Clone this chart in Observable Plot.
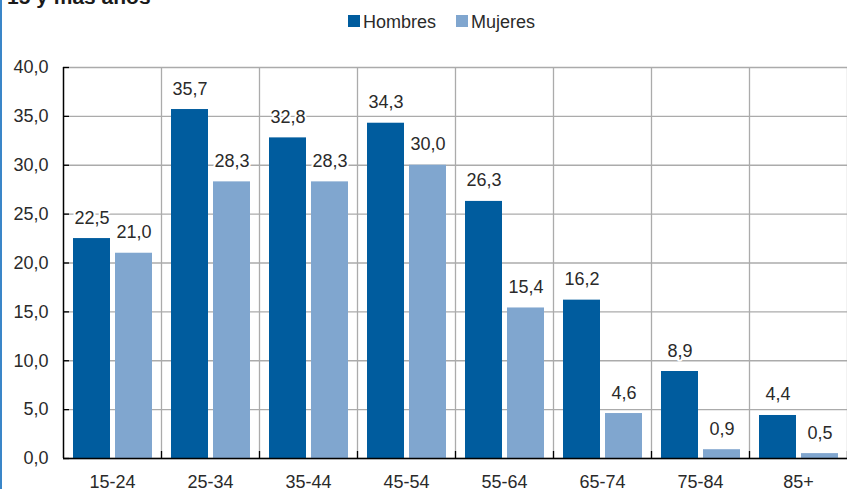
<!DOCTYPE html>
<html>
<head>
<meta charset="utf-8">
<script src="https://cdn.jsdelivr.net/npm/d3@7"></script>
<script src="https://cdn.jsdelivr.net/npm/@observablehq/plot@0.6"></script>
<style>
  html, body { margin: 0; padding: 0; background: #fff; }
  #wrap { position: relative; width: 847px; height: 489px; overflow: hidden; font-family: "Liberation Sans", Arial, Helvetica, sans-serif; }
  #border { position: absolute; left: 0; top: 0; width: 2px; height: 489px; background: #3a86c8; }
  #overlay { position: absolute; left: 0; top: 0; pointer-events: none; }
</style>
</head>
<body>
<div id="wrap"><div id="border"></div></div>
<script>
const titleText = "15 y más años";
const categories = ["15-24", "25-34", "35-44", "45-54", "55-64", "65-74", "75-84", "85+"];
const hombres = [22.5, 35.7, 32.8, 34.3, 26.3, 16.2, 8.9, 4.4];
const mujeres = [21.0, 28.3, 28.3, 30.0, 15.4, 4.6, 0.9, 0.5];
const seriesNames = ["Hombres", "Mujeres"];
const seriesColors = ["#005c9e", "#80a6cf"];
const yTicks = [0, 5, 10, 15, 20, 25, 30, 35, 40];

const fmt = d => d.toFixed(1).replace(".", ",");
const dataH = categories.map((c, i) => ({cat: c, sexo: seriesNames[0], v: hombres[i]}));
const dataM = categories.map((c, i) => ({cat: c, sexo: seriesNames[1], v: mujeres[i]}));

const W = 847, H = 489;
const mL = 63, mR = 0, mT = 67, mB = 31;
const step = (W - mL - mR) / categories.length;
const frameH = H - mT - mB;
const textColor = "#2a2a2a";
const gridColor = "#ababab";
const fs = 18;

const chart = Plot.plot({
  width: W,
  height: H,
  marginLeft: mL,
  marginRight: mR,
  marginTop: mT,
  marginBottom: mB,
  style: {fontFamily: "'Liberation Sans', Arial, Helvetica, sans-serif", fontSize: fs + "px", color: textColor, background: "transparent", overflow: "visible"},
  x: {domain: categories, padding: 0},
  y: {domain: [0, 40]},
  color: {domain: seriesNames, range: seriesColors},
  marks: [
    Plot.ruleY(yTicks, {stroke: gridColor, strokeWidth: 1.3}),
    Plot.ruleX(categories, {x: d => d, dx: step / 2, stroke: gridColor, strokeWidth: 1.3}),
    Plot.barY(dataH, {x: "cat", y: "v", fill: "sexo", insetLeft: 10, insetRight: step - 47}),
    Plot.barY(dataM, {x: "cat", y: "v", fill: "sexo", insetLeft: 52, insetRight: step - 89}),
    Plot.text(dataH, {x: "cat", y: "v", text: d => fmt(d.v), dx: 28.5 - step / 2, dy: -15, lineAnchor: "bottom", fill: textColor, stroke: "white", strokeWidth: 4, fontSize: fs}),
    Plot.text(dataM, {x: "cat", y: "v", text: d => fmt(d.v), dx: 70.5 - step / 2, dy: -15, lineAnchor: "bottom", fill: textColor, stroke: "white", strokeWidth: 4, fontSize: fs}),
    Plot.ruleY(yTicks, {stroke: "black", strokeWidth: 1.3, insetRight: (W - mL - mR) - 6}),
    Plot.ruleX(categories, {x: d => d, dx: step / 2, stroke: "black", strokeWidth: 1.3, insetTop: frameH - 7}),
    Plot.ruleX([categories[0]], {x: d => d, dx: -step / 2, stroke: "black", strokeWidth: 1.5}),
    Plot.ruleY([0], {stroke: "black", strokeWidth: 1.5}),
    Plot.axisY({ticks: yTicks, tickFormat: fmt, tickSize: 0, tickPadding: 15, fontSize: fs, label: null}),
    Plot.axisX({tickSize: 0, tickPadding: 17, fontSize: fs, label: null})
  ]
});

const wrap = document.getElementById("wrap");
wrap.appendChild(chart);

// overlay: title (cut off at top) and legend
const ov = d3.select(wrap).append("svg")
  .attr("id", "overlay")
  .attr("width", W).attr("height", 40)
  .style("font-family", "'Liberation Sans', Arial, Helvetica, sans-serif");

ov.append("text")
  .attr("x", 7).attr("y", 4)
  .attr("font-size", 21).attr("font-weight", "bold")
  .attr("fill", "#1a1a1a")
  .text(titleText);

const legendX = [348, 456];
seriesNames.forEach((s, i) => {
  ov.append("rect").attr("x", legendX[i]).attr("y", 15).attr("width", 12).attr("height", 12).attr("fill", seriesColors[i]);
  ov.append("text").attr("x", legendX[i] + 15).attr("y", 27.5).attr("font-size", fs).attr("fill", textColor).text(s);
});
</script>
</body>
</html>
